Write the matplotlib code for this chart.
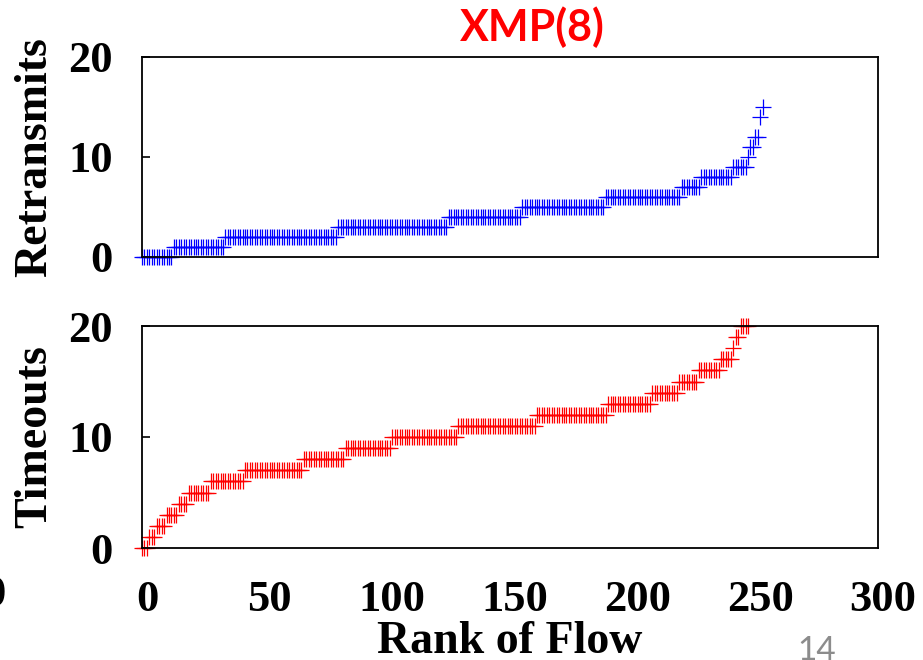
import numpy as np
import matplotlib
matplotlib.use('Agg')
import matplotlib.pyplot as plt
import matplotlib.transforms as mtransforms

# retransmits per flow: value levels and how many flows sit on each level
retx_levels = [0, 1, 2, 3, 4, 5, 6, 7, 8, 9, 10, 11, 12, 14, 15]
retx_counts = [13, 21, 46, 45, 30, 34, 31, 8, 13, 6, 1, 2, 2, 1, 1]

# timeouts per flow
tout_levels = [0, 1, 2, 3, 4, 5, 6, 7, 8, 9, 10, 11, 12, 13, 14, 15, 16, 17, 18, 19, 20]
tout_counts = [3, 3, 4, 5, 4, 9, 14, 24, 17, 19, 27, 32, 29, 18, 11, 8, 9, 5, 1, 2, 4]

xticks = [0, 50, 100, 150, 200, 250, 300]
yticks = [0, 10, 20]

retx = np.repeat(retx_levels, retx_counts)
tout = np.repeat(tout_levels, tout_counts)
rank_retx = np.arange(len(retx))
rank_tout = np.arange(len(tout))

serif = ['Liberation Serif', 'DejaVu Serif']

fig = plt.figure(figsize=(9.23, 6.6), dpi=100)
ax1 = fig.add_axes([142/923, 1-257/660, 736/923, 200/660])
ax2 = fig.add_axes([142/923, 1-548/660, 736/923, 222/660])

def style(ax, label, show_x):
    ax.set_xlim(0, 300)
    ax.set_ylim(0, 20)
    ax.set_yticks(yticks)
    ax.set_xticks(xticks)
    for s in ax.spines.values():
        s.set_linewidth(1.3)
    ax.tick_params(axis='y', direction='in', length=6, width=1.2, pad=21,
                   right=False, labelsize=32)
    ax.tick_params(axis='x', length=0, pad=23, labelsize=32, labelbottom=show_x)
    for t in ax.get_yticklabels() + ax.get_xticklabels():
        t.set_family(serif)
        t.set_fontweight('bold')
    # the x tick labels sit a few pixels right of their ticks in the original
    shift = mtransforms.ScaledTranslation(5/100, 0, fig.dpi_scale_trans)
    for t in ax.get_xticklabels():
        t.set_transform(t.get_transform() + shift)
    ax.set_ylabel(label, fontsize=33, fontweight='bold', family=serif, va='center')
    ax.yaxis.set_label_coords(-0.1454, 0.5)

ax1.plot(rank_retx, retx, linestyle='none', marker='+', markersize=12,
         markeredgewidth=0.9, color='#0000ff', clip_on=False)
ax2.plot(rank_tout, tout, linestyle='none', marker='+', markersize=12,
         markeredgewidth=0.9, color='#ff0000', clip_on=False)

style(ax1, 'Retransmits', False)
style(ax2, 'Timeouts', True)
ax2.set_xlabel('Rank of Flow', fontsize=33, fontweight='bold', family=serif, labelpad=1)

fig.text(532/923, 1-27/660, 'XMP(8)', color='#ff0000', fontsize=31,
         fontweight='bold', family='Lato', ha='center', va='center')
fig.text(817/923, 1-636/660, '14', color='#8c8c8c', fontsize=24,
         family='Lato', ha='center', va='top')
fig.text(-6/923, 1-595/660, '0', fontsize=32, fontweight='bold', family=serif,
         ha='center', va='center')

fig.savefig('out.png', dpi=100)
